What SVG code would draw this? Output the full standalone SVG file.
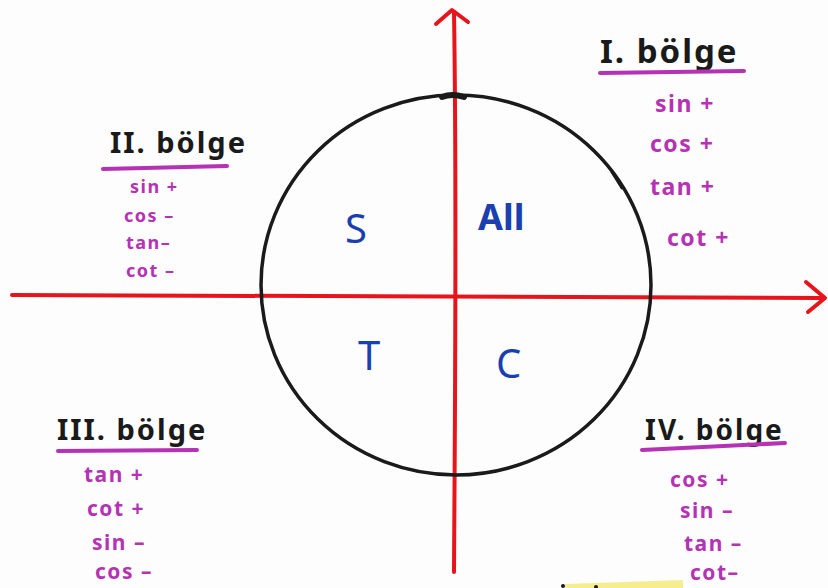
<svg xmlns="http://www.w3.org/2000/svg" width="828" height="588" viewBox="0 0 828 588">
<style>
.ax{fill:none;stroke:#e8141c;stroke-width:4;stroke-linecap:round;stroke-linejoin:round}
.circ{fill:none;stroke:#1a1a1a;stroke-width:3.5;stroke-linecap:round}
.title{font-family:"Noto Sans","Open Sans",sans-serif;font-weight:bold;fill:#1a1a1a;letter-spacing:2px}
.ul{stroke:#b532b5;stroke-width:4;stroke-linecap:round}
.sg{font-family:"Noto Sans","Open Sans",sans-serif;font-weight:bold;fill:#b532b5;letter-spacing:1.5px}
.q{font-family:"Noto Sans","Open Sans",sans-serif;fill:#1a3fb0}
</style>
<rect width="828" height="588" fill="#fdfdfd"/>
<g id="connectors">
  <path class="ax" d="M454 572 C455 400 457 200 454 12"/>
  <path class="ax" d="M436 24 L452 10 L468 22"/>
  <path class="ax" d="M12 295 C300 296 600 297 824 298"/>
  <path class="ax" d="M806 282 L825 298 L808 312"/>
</g>
<g id="circle">
  <ellipse class="circ" cx="456" cy="285" rx="195" ry="190"/>
  <path d="M442 97 Q452 93 464 97" stroke="#1a1a1a" stroke-width="6" fill="none" stroke-linecap="round"/>
  <path d="M612 172 L622 188" stroke="#1a1a1a" stroke-width="3" fill="none" stroke-linecap="round"/>
</g>
<g id="q1">
  <text class="title" x="600" y="63" font-size="33">I. bölge</text>
  <line class="ul" x1="600" y1="73" x2="744" y2="71"/>
  <text class="sg" x="655" y="112" font-size="23">sin +</text>
  <text class="sg" x="650" y="152" font-size="23">cos +</text>
  <text class="sg" x="650" y="195" font-size="23">tan +</text>
  <text class="sg" x="667" y="246" font-size="23">cot +</text>
</g>
<g id="q2">
  <text class="title" x="110" y="153" font-size="29">II. bölge</text>
  <line class="ul" x1="103" y1="169" x2="227" y2="166"/>
  <text class="sg" x="130" y="193" font-size="18">sin +</text>
  <text class="sg" x="124" y="222" font-size="18">cos –</text>
  <text class="sg" x="126" y="249" font-size="18">tan–</text>
  <text class="sg" x="126" y="277" font-size="18">cot –</text>
</g>
<g id="q3">
  <text class="title" x="57" y="440" font-size="29">III. bölge</text>
  <line class="ul" x1="58" y1="451" x2="197" y2="450"/>
  <text class="sg" x="84" y="482" font-size="21">tan +</text>
  <text class="sg" x="87" y="516" font-size="21">cot +</text>
  <text class="sg" x="92" y="550" font-size="21">sin –</text>
  <text class="sg" x="95" y="579" font-size="21">cos –</text>
</g>
<g id="q4">
  <text class="title" x="645" y="440" font-size="28">IV. bölge</text>
  <line class="ul" x1="642" y1="450" x2="785" y2="443"/>
  <text class="sg" x="670" y="487" font-size="21">cos +</text>
  <text class="sg" x="680" y="518" font-size="21">sin –</text>
  <text class="sg" x="684" y="551" font-size="21">tan –</text>
  <text class="sg" x="690" y="580" font-size="21">cot–</text>
</g>
<g id="letters">
  <text class="q" x="345" y="243" font-size="40">S</text>
  <text class="q" x="478" y="230" font-size="36" font-weight="bold">All</text>
  <text class="q" x="358" y="370" font-size="40">T</text>
  <text class="q" x="496" y="378" font-size="40">C</text>
</g>
<g id="highlight">
  <path d="M565 584 L683 580 L683 588 L565 588 Z" fill="#f6ee8e"/>
  <circle cx="563" cy="586" r="2" fill="#1a1a1a"/>
  <circle cx="596" cy="587" r="2" fill="#1a1a1a"/>
</g>
</svg>
